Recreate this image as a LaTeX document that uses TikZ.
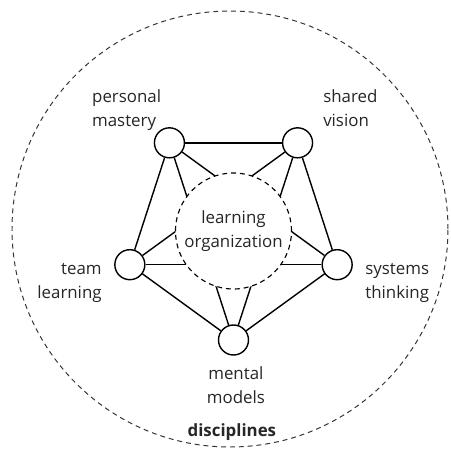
\documentclass[tikz,border=0pt]{standalone}
\usepackage{fontspec}
\setmainfont{Open Sans}
\usepackage{tikz}

\begin{document}
\begin{tikzpicture}[
    disc/.style={circle,draw,fill=white,line width=1pt,minimum size=0.75cm,inner sep=0pt},
    lbl/.style={inner sep=0pt,font=\fontsize{12}{17}\selectfont,text=black!85}
  ]
  \useasboundingbox (-5.8375,-5.5) rectangle (5.4375,5.775);
  % outer dashed circle
  \draw[line width=0.7pt,dash pattern=on 3.5pt off 2.8pt,black!80] (-0.0875,0.05) circle (5.45);
  % the five disciplines
  \foreach \name/\ang in {mental/-90,systems/-18,shared/54,personal/126,team/198} {
      \node[disc] (\name) at (\ang:2.725) {};
  }
  \foreach \a/\b in {personal/shared,shared/systems,systems/mental,mental/team,team/personal,
                     personal/systems,personal/mental,shared/mental,shared/team,team/systems} {
      \draw[line width=1pt] (\a) -- (\b);
  }
  % centre
  \node[circle,draw,fill=white,line width=0.8pt,dash pattern=on 3.5pt off 2.8pt,
        minimum size=2.9cm,inner sep=0pt,align=center,lbl] (org) at (0,0) {learning\\organization};
  % labels
  \node[lbl,anchor=west,align=left] at (-3.54,3.025) {personal\\mastery};
  \node[lbl,anchor=west,align=left] at (2.2375,3.06) {shared\\vision};
  \node[lbl,anchor=east,align=right] at (-3.29,-1.31) {team\\learning};
  \node[lbl,anchor=west,align=left] at (3.29,-1.31) {systems\\thinking};
  \node[lbl,align=center] at (0.06,-3.85) {mental\\models};
  \node[lbl,font=\fontsize{12}{17}\selectfont\bfseries] at (-0.04,-5.025) {disciplines};
\end{tikzpicture}
\end{document}
